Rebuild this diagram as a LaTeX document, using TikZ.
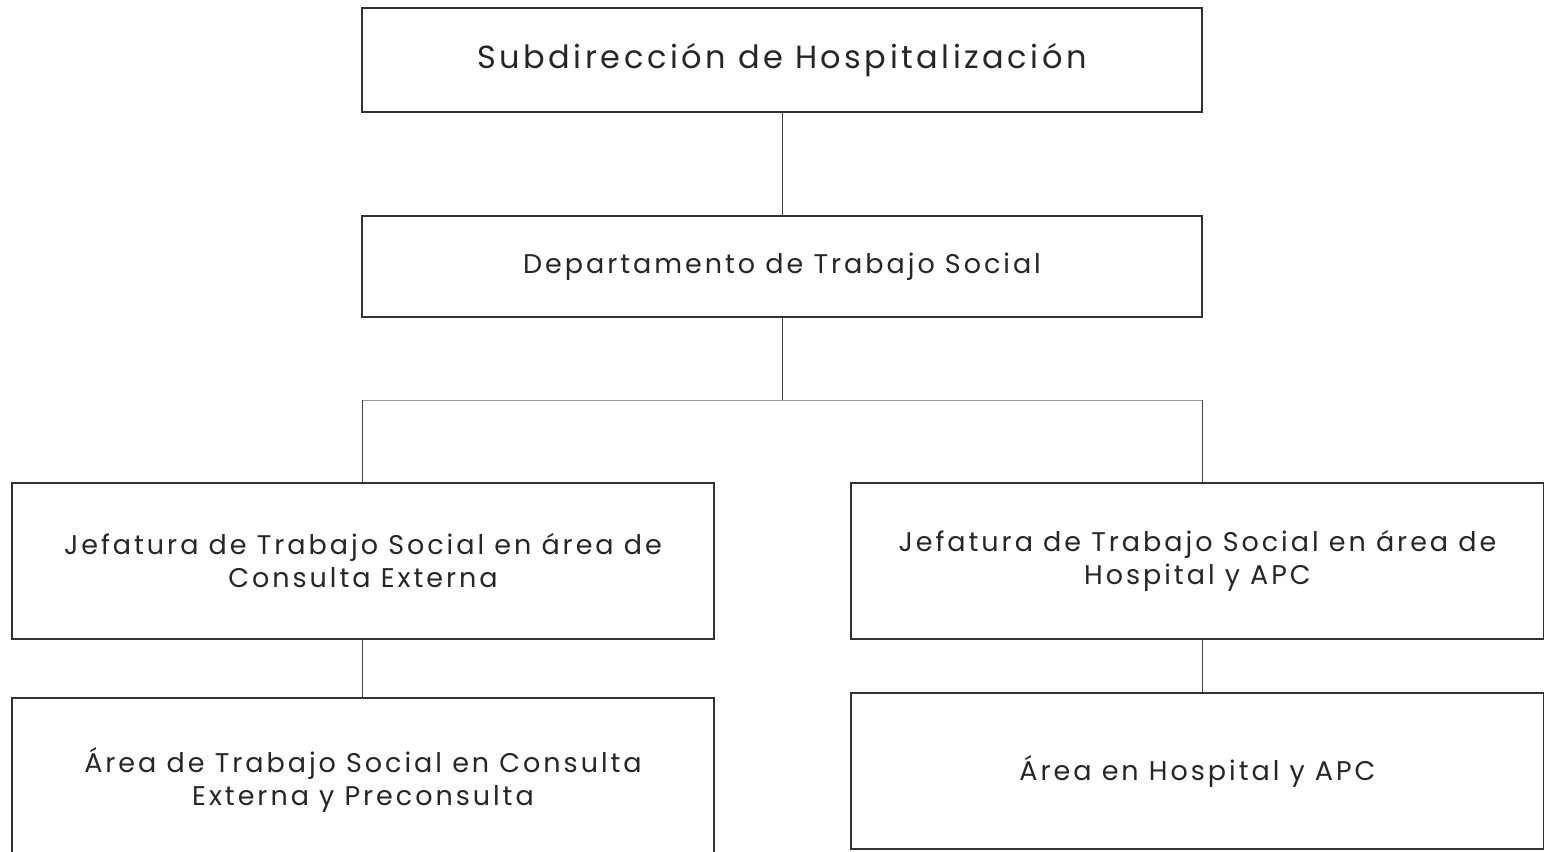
\documentclass[tikz,border=0pt]{standalone}
\usepackage{fontspec}
\setmainfont{Poppins}[LetterSpace=11]
\usepackage{tikz}

\begin{document}
\begin{tikzpicture}[x=1pt, y=-1pt,
    unit/.style={draw=black!80, line width=2pt, align=center, text=black!85,
        font=\fontsize{27}{33}\selectfont, inner sep=0pt},
    link/.style={draw=black!75, line width=1pt}]
    \useasboundingbox (0,0) rectangle (1544,851);

    % Units
    \node[unit, minimum width=840pt, minimum height=104pt,
        font=\fontsize{32}{38}\selectfont] (subdir) at (782,60) {Subdirección de Hospitalización};
    \node[unit, minimum width=840pt, minimum height=101pt] (depto) at (782,266.5) {Departamento de Trabajo Social};
    \node[unit, minimum width=702pt, minimum height=156pt] (jefce) at (363,561) {Jefatura de Trabajo Social en área de\\Consulta Externa};
    \node[unit, minimum width=693pt, minimum height=156pt] (jefhosp) at (1197.5,561) {Jefatura de Trabajo Social en área de\\Hospital y APC};
    \node[unit, minimum width=702pt, minimum height=164pt] (areace) at (363,780) {Área de Trabajo Social en Consulta\\Externa y Preconsulta};
    \node[unit, minimum width=693pt, minimum height=156pt] (areahosp) at (1197.5,771) {Área en Hospital y APC};

    % Links
    \coordinate (split) at (782,400);
    \coordinate (splitL) at (362,400);
    \coordinate (splitR) at (1202,400);
    \draw[link] (subdir) -- (depto);
    \draw[link] (depto) -- (split);
    \draw[link, draw=black!40] (splitL) -- (splitR);
    \draw[link] (splitL) -- (splitL |- jefce.north);
    \draw[link] (splitR) -- (splitR |- jefhosp.north);
    \draw[link] (jefce.south -| splitL) -- (areace.north -| splitL);
    \draw[link] (jefhosp.south -| splitR) -- (areahosp.north -| splitR);
\end{tikzpicture}
\end{document}
